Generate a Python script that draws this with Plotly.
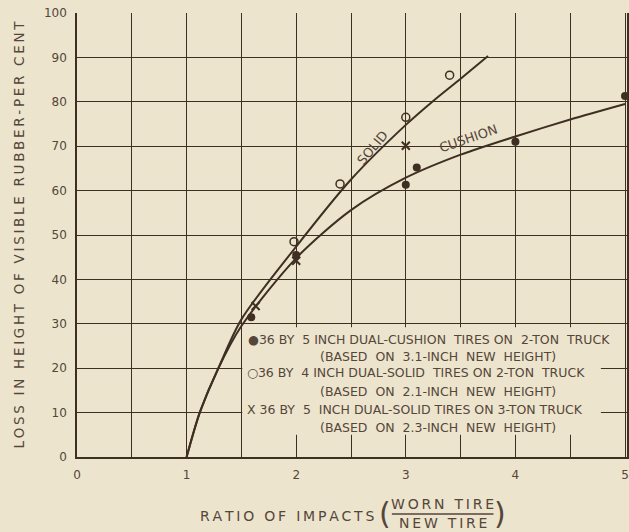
import plotly.graph_objects as go

# Smooth fitted curves (ratio of impacts vs. loss in height, per cent)
cushion_curve_x = [1.0, 1.12, 1.29, 1.5, 2.0, 2.5, 3.0, 3.5, 4.0, 4.5, 5.0]
cushion_curve_y = [0, 10, 20, 29.5, 44.8, 55.6, 62.9, 68.1, 72.2, 76.0, 79.5]
solid_curve_x = [1.0, 1.12, 1.29, 1.5, 2.0, 2.5, 3.0, 3.25, 3.5, 3.75]
solid_curve_y = [0, 10, 20, 31.0, 47.4, 62.5, 74.8, 80.2, 85.2, 90.3]

# Observed points
cushion_2ton_x = [1.59, 2.0, 3.0, 3.1, 4.0, 5.0]
cushion_2ton_y = [31.5, 45.5, 61.3, 65.2, 71.0, 81.3]
solid_2ton_x = [1.98, 2.4, 3.0, 3.4]
solid_2ton_y = [48.5, 61.5, 76.5, 86.0]
solid_3ton_x = [1.63, 2.0, 3.0]
solid_3ton_y = [34.0, 44.2, 70.1]

x_ticks = [0, 1, 2, 3, 4, 5]
y_ticks = [0, 10, 20, 30, 40, 50, 60, 70, 80, 90, 100]

legend_lines = [
    "●36 BY  5 INCH DUAL-CUSHION  TIRES ON  2-TON  TRUCK",
    "(BASED  ON  3.1-INCH  NEW  HEIGHT)",
    "○36 BY  4 INCH DUAL-SOLID  TIRES ON 2-TON  TRUCK",
    "(BASED  ON  2.1-INCH  NEW  HEIGHT)",
    "X 36 BY  5  INCH DUAL-SOLID TIRES ON 3-TON TRUCK",
    "(BASED  ON  2.3-INCH  NEW  HEIGHT)",
]

PAPER = "#ece4cd"
INK = "#3f2f22"
TEXT = "#55463a"
FONT = "DejaVu Sans"

# plot area in pixels: left 77, bottom 457, width 552, height 444
L, B, W, H = 77, 457, 552, 444


def spaced(s, gap="\u2009"):
    """Open up the lettering a little, like hand-lettered drafting text."""
    return gap.join(s)


def to_paper(px, py):
    return (px - L) / W, (B - py) / H


fig = go.Figure()

fig.add_trace(go.Scatter(x=cushion_curve_x, y=cushion_curve_y, mode="lines",
                         line=dict(color=INK, width=2, shape="spline", smoothing=0.8),
                         hoverinfo="skip"))
fig.add_trace(go.Scatter(x=solid_curve_x, y=solid_curve_y, mode="lines",
                         line=dict(color=INK, width=2, shape="spline", smoothing=0.8),
                         hoverinfo="skip"))
fig.add_trace(go.Scatter(x=cushion_2ton_x, y=cushion_2ton_y, mode="markers",
                         marker=dict(symbol="circle", size=8, color=INK)))
fig.add_trace(go.Scatter(x=solid_2ton_x, y=solid_2ton_y, mode="markers",
                         marker=dict(symbol="circle-open", size=8, color=INK,
                                     line=dict(width=1.5, color=INK))))
fig.add_trace(go.Scatter(x=solid_3ton_x, y=solid_3ton_y, mode="markers",
                         marker=dict(symbol="x-thin-open", size=8, color=INK,
                                     line=dict(width=2, color=INK))))

# blank panel behind the key text
fig.add_shape(type="rect", xref="x", yref="y", x0=1.508, x1=4.78, y0=5.0, y1=29.2,
              fillcolor=PAPER, line=dict(width=0), layer="between")

# key text
legend_y = [339, 356, 373, 391, 409, 427]
legend_x = [247, None, 246, None, 246, None]
for txt, py, px in zip(legend_lines, legend_y, legend_x):
    ann = dict(text=txt, showarrow=False, xref="paper", yref="paper",
               font=dict(family=FONT, size=12.5, color=TEXT), yanchor="middle")
    if px is None:
        xx, yy = to_paper(439, py)
        ann.update(x=xx, y=yy, xanchor="center")
    else:
        xx, yy = to_paper(px, py)
        ann.update(x=xx, y=yy, xanchor="left")
    fig.add_annotation(**ann)

# curve labels
fig.add_annotation(x=2.7, y=69.6, text="SOLID", showarrow=False, textangle=-50,
                   font=dict(family=FONT, size=13, color=TEXT))
fig.add_annotation(x=3.57, y=71.8, text="CUSHION", showarrow=False, textangle=-19,
                   font=dict(family=FONT, size=13, color=TEXT))

# x-axis title with fraction
ax, ay = to_paper(288, 516)
fig.add_annotation(x=ax, y=ay, xref="paper", yref="paper", xanchor="center", yanchor="middle",
                   text=spaced("RATIO OF IMPACTS"), showarrow=False,
                   font=dict(family=FONT, size=14, color=TEXT))
ax, ay = to_paper(444, 504)
fig.add_annotation(x=ax, y=ay, xref="paper", yref="paper", xanchor="center", yanchor="middle",
                   text=spaced("WORN TIRE"), showarrow=False,
                   font=dict(family=FONT, size=14, color=TEXT))
ax, ay = to_paper(444, 523)
fig.add_annotation(x=ax, y=ay, xref="paper", yref="paper", xanchor="center", yanchor="middle",
                   text=spaced("NEW TIRE"), showarrow=False,
                   font=dict(family=FONT, size=14, color=TEXT))
for ppx, ch in [(386, "("), (502, ")")]:
    ax, ay = to_paper(ppx, 513)
    fig.add_annotation(x=ax, y=ay, xref="paper", yref="paper", xanchor="center", yanchor="middle",
                       text=ch, showarrow=False, font=dict(family=FONT, size=30, color=TEXT))
x0p, yb = to_paper(393, 514)
x1p, _ = to_paper(495, 514)
fig.add_shape(type="line", xref="paper", yref="paper", x0=x0p, x1=x1p, y0=yb, y1=yb,
              line=dict(color=TEXT, width=1.5))

fig.update_layout(
    width=629, height=532,
    margin=dict(l=77, r=0, t=13, b=75),
    paper_bgcolor=PAPER, plot_bgcolor=PAPER,
    showlegend=False,
    font=dict(family=FONT, color=TEXT),
)
fig.update_xaxes(range=[0, 552 / 110], tickvals=x_ticks, ticktext=[str(v) for v in x_ticks],
                 showgrid=True, gridcolor=INK, gridwidth=1.2,
                 minor=dict(dtick=0.5, tick0=0, showgrid=True, gridcolor=INK, gridwidth=1.2),
                 showline=True, linecolor=INK, linewidth=1.5,
                 ticks="outside", ticklen=6, tickcolor="rgba(0,0,0,0)",
                 tickfont=dict(family=FONT, size=12, color=TEXT), zeroline=False)
fig.update_yaxes(range=[0, 100], tickvals=y_ticks, ticktext=[str(v) for v in y_ticks],
                 showgrid=True, gridcolor=INK, gridwidth=1.2,
                 showline=True, linecolor=INK, linewidth=1.5, mirror=True,
                 ticks="outside", ticklen=6, tickcolor="rgba(0,0,0,0)",
                 tickfont=dict(family=FONT, size=12, color=TEXT), zeroline=False,
                 title=dict(text=spaced("LOSS IN HEIGHT OF VISIBLE RUBBER-PER CENT"),
                            font=dict(family=FONT, size=13.5, color=TEXT), standoff=16))

fig.write_html("out.html")
